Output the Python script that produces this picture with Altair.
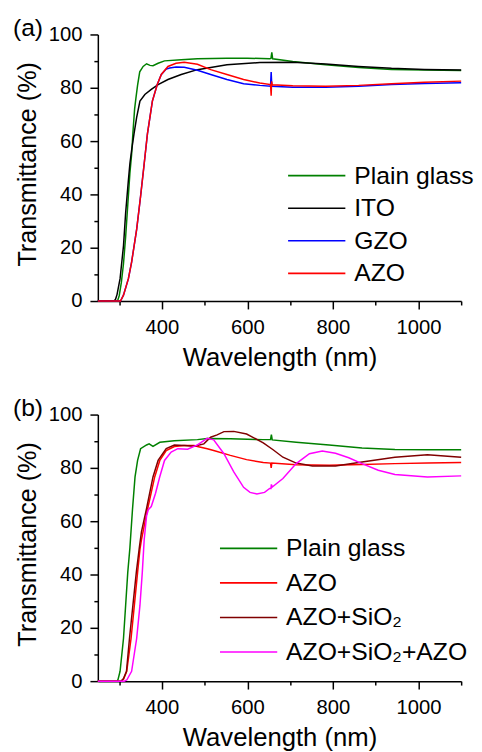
import altair as alt
import pandas as pd

FONT = "Liberation Sans"

# ---------------- Panel (a) ----------------
A_SERIES = ["Plain glass", "ITO", "GZO", "AZO"]
A_COLORS = ["#008000", "#000000", "#0000ff", "#ff0000"]

A_GLASS_WL = [250, 296, 300, 305, 310, 315, 320, 325, 329, 332, 336, 339, 343, 348, 356, 364, 372, 379, 391, 406, 445, 483, 552, 600, 652, 655, 657, 659, 706, 783, 860, 937, 1014, 1100]
A_GLASS_T = [0, 0, 2, 7, 14, 24, 36, 48, 55, 63, 72, 76, 81, 86, 88, 89, 88.4, 88.3, 89.2, 90.1, 90.5, 90.9, 91.1, 91.1, 90.9, 91, 93.3, 90.9, 89.9, 88.6, 87.6, 86.9, 86.7, 86.5]

A_ITO_WL = [250, 287, 291, 295, 302, 310, 315, 321.5, 325, 329, 334.6, 340.8, 348.5, 360, 375, 391, 414, 445, 483, 552, 629, 706, 783, 860, 937, 1014, 1100]
A_ITO_T = [0, 0, 0.5, 2.5, 8.4, 20.7, 33, 45.4, 51.6, 56.5, 62.7, 68.9, 75, 77.5, 79.4, 81.2, 83.1, 85, 86.8, 88.6, 89.5, 89.6, 88.9, 88, 87.3, 86.9, 86.7]

A_GZO_WL = [250, 303, 310, 321.5, 329, 340.8, 350, 358.5, 366, 377.6, 389, 398.5, 410, 418, 433, 452, 483, 514, 552, 591, 629, 654, 655.5, 657, 706, 783, 860, 937, 1014, 1100]
A_GZO_T = [0, 0, 2.2, 8.4, 14.6, 26.9, 39.3, 51.6, 62.7, 75, 81.2, 85, 87, 87.4, 87.8, 87.7, 86.6, 85, 83.1, 81.5, 80.9, 80.6, 85.9, 80.6, 80.2, 80.2, 80.6, 81.2, 81.6, 81.9]

A_AZO_WL = [250, 303, 310, 321.5, 329, 340.8, 350, 358.5, 366, 377.6, 389, 398.5, 414, 433, 452, 483, 514, 552, 591, 629, 654, 655.5, 656.5, 658, 706, 783, 860, 937, 1014, 1100]
A_AZO_T = [0, 0, 2.2, 8.4, 14.6, 26.9, 39.3, 51.6, 62.7, 75, 81.2, 85, 88, 89.2, 89.6, 88.8, 86.8, 85, 83.1, 81.8, 81.2, 77, 82.4, 81.1, 80.8, 80.6, 80.9, 81.5, 82.1, 82.5]

# ---------------- Panel (b) ----------------
B_SERIES = ["Plain glass", "AZO", "AZO+SiO\u2082", "AZO+SiO\u2082+AZO"]
B_COLORS = ["#008000", "#ff0000", "#800000", "#ff00ff"]

B_GLASS_WL = [250, 296, 297, 302, 310, 315, 320, 325, 331, 337, 343, 350, 364, 370, 379, 395, 429, 483, 506, 560, 637, 654, 656, 658, 714, 791, 868, 945, 1021, 1100]
B_GLASS_T = [0, 0, 0.5, 3.7, 16, 28.4, 40.8, 50, 64.3, 76.6, 82.8, 87.2, 88.6, 89, 88.1, 89.6, 90.2, 90.6, 91, 90.9, 90.6, 90.6, 92.5, 90.5, 89.6, 88.6, 87.5, 86.9, 86.8, 86.8]

B_AZO_WL = [250, 305, 310, 317.6, 327.7, 335.4, 343, 348.5, 352, 366, 383, 395, 410, 429, 452, 475, 483, 506, 521, 560, 598, 637, 654, 655.5, 657, 714, 791, 868, 945, 1021, 1100]
B_AZO_T = [0, 0, 0.7, 3.7, 16, 28.4, 40.8, 49.4, 53, 64.3, 76.6, 82.8, 86.5, 88, 88.4, 88.4, 88, 87.2, 86.5, 84.7, 83.1, 82, 81.8, 80, 81.8, 81.2, 81, 81.3, 81.6, 81.8, 82]

B_SIO2_WL = [250, 304, 310, 317, 324, 332, 340, 347, 352, 364, 379, 391, 410, 429, 452, 475, 498, 514, 529, 545, 568, 598, 637, 660, 683, 714, 752, 806, 868, 945, 1021, 1100]
B_SIO2_T = [0, 0, 1, 3.7, 16, 28.4, 40.8, 50, 56, 64.8, 76.6, 82.8, 87.2, 88.6, 88.4, 88.1, 89, 91.5, 92.4, 93.6, 93.7, 92.7, 89.4, 86.8, 84, 81.8, 80.7, 80.7, 82.2, 84, 84.9, 84]

B_TRI_WL = [250, 312, 318, 329, 340.8, 348.5, 354, 358.5, 364, 368, 375, 385, 394.7, 406, 421.5, 437, 460, 483, 506, 514, 521, 545, 568, 591, 606, 622, 640, 652, 655, 656, 658, 683, 714, 745, 775, 806, 837, 868, 906, 945, 1021, 1100]
B_TRI_T = [0, 0, 0.5, 3.7, 16, 28.4, 40.8, 53.2, 62, 64.3, 65.5, 70.5, 76.6, 82.8, 85.9, 87.2, 87, 88.6, 91.1, 90.8, 90.5, 85.3, 78.5, 72.7, 70.8, 70.2, 70.8, 72.3, 72.3, 73.8, 72.8, 76, 81.6, 85.3, 86.3, 85.5, 83.8, 81.6, 79.1, 77.5, 76.6, 77]

X_TICKS = [300, 400, 500, 600, 700, 800, 900, 1000, 1100]
Y_TICKS = [0, 10, 20, 30, 40, 50, 60, 70, 80, 90, 100]


def frame(names, wls, ts):
    rows = []
    for name, w, t in zip(names, wls, ts):
        for i, (x, y) in enumerate(zip(w, t)):
            rows.append({"series": name, "wl": x, "T": y, "i": i})
    return pd.DataFrame(rows)


def panel(df, names, colors, tag, lx, ly, clip_h):
    x = alt.X(
        "wl:Q",
        scale=alt.Scale(domain=[250, 1100], nice=False, zero=False),
        axis=alt.Axis(
            values=X_TICKS, format="d",
            labelExpr="datum.value % 200 === 0 ? datum.label : ''",
            tickSize={"condition": {"test": "datum.value % 200 === 0", "value": 8}, "value": 4},
            labelPadding=9, labelFont=FONT, labelFontSize=20.5, labelColor="black",
            domainColor="black", domainWidth=1.5, tickColor="black", tickWidth=1.5,
            grid=False, title="Wavelength (nm)", titleFont=FONT, titleFontSize=26,
            titleFontWeight="normal", titleColor="black", titleBaseline="alphabetic",
            titleY=65,
        ),
    )
    y = alt.Y(
        "T:Q",
        scale=alt.Scale(domain=[0, 100], nice=False),
        axis=alt.Axis(
            values=Y_TICKS, format="d",
            labelExpr="datum.value % 20 === 0 ? datum.label : ''",
            tickSize={"condition": {"test": "datum.value % 20 === 0", "value": 8}, "value": 4},
            labelPadding=8, labelFont=FONT, labelFontSize=20.5, labelColor="black",
            domainColor="black", domainWidth=1.5, tickColor="black", tickWidth=1.5,
            grid=False, title="Transmittance (%)", titleFont=FONT, titleFontSize=25.5,
            titleFontWeight="normal", titleColor="black", titleAngle=270,
            titleAlign="center", titleBaseline="alphabetic", titleX=-63, titleY=131,
        ),
    )
    color = alt.Color(
        "series:N",
        scale=alt.Scale(domain=names, range=colors),
        legend=alt.Legend(
            orient="none", legendX=lx, legendY=ly, title=None,
            symbolType="stroke", symbolSize=3364, symbolStrokeWidth=1.6,
            labelFont=FONT, labelFontSize=25, labelColor="black", labelLimit=400,
            labelOffset=8, clipHeight=clip_h, rowPadding=0, padding=0,
        ),
    )
    lines = alt.Chart(df).mark_line(strokeWidth=1.5).encode(
        x=x, y=y, color=color, order="i:Q"
    )
    label = alt.Chart(pd.DataFrame({"t": [tag]})).mark_text(
        font=FONT, fontSize=25, align="left", baseline="alphabetic", color="black"
    ).encode(text="t:N", x=alt.value(-86), y=alt.value(1.5))
    return alt.layer(lines, label).properties(width=368, height=270)


df_a = frame(A_SERIES, [A_GLASS_WL, A_ITO_WL, A_GZO_WL, A_AZO_WL], [A_GLASS_T, A_ITO_T, A_GZO_T, A_AZO_T])
df_b = frame(B_SERIES, [B_GLASS_WL, B_AZO_WL, B_SIO2_WL, B_TRI_WL], [B_GLASS_T, B_AZO_T, B_SIO2_T, B_TRI_T])

pa = panel(df_a, A_SERIES, A_COLORS, "(a)", 191.7, 126.5, 33)
pb = panel(df_b, B_SERIES, B_COLORS, "(b)", 122.7, 118.0, 35)

chart = alt.vconcat(pa, pb, spacing=26).resolve_scale(color="independent").properties(
    padding={"left": 5, "top": 3, "right": 0, "bottom": 0}
).configure_view(stroke=None)

chart.save("out.html", embed_options={"renderer": "svg", "actions": False})
